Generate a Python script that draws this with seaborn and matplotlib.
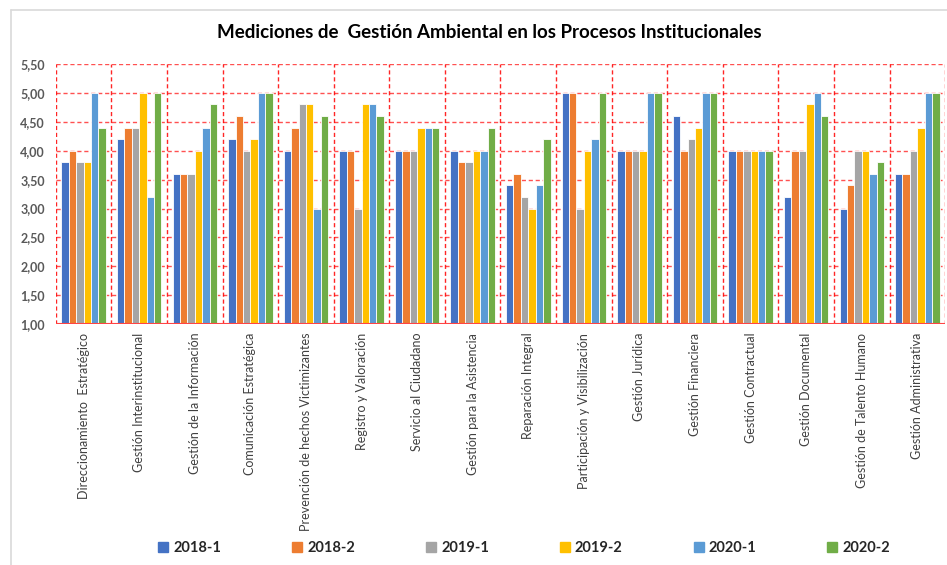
import pandas as pd
import numpy as np
import matplotlib.pyplot as plt
import seaborn as sns
from matplotlib.lines import Line2D
from matplotlib.ticker import FuncFormatter, MultipleLocator

# data
procesos = [
    "Direccionamiento  Estratégico", "Gestión Interinstitucional",
    "Gestión de la Información", "Comunicación Estratégica",
    "Prevención de hechos Victimizantes", "Registro y Valoración",
    "Servicio al Ciudadano", "Gestión para la Asistencia",
    "Reparación Integral", "Participación y Visibilización",
    "Gestión Jurídica", "Gestión Financiera", "Gestión Contractual",
    "Gestión Documental", "Gestión de Talento Humano", "Gestión Administrativa",
]
periodos = ["2018-1", "2018-2", "2019-1", "2019-2", "2020-1", "2020-2"]

v_2018_1 = [3.8, 4.2, 3.6, 4.2, 4.0, 4.0, 4.0, 4.0, 3.4, 5.0, 4.0, 4.6, 4.0, 3.2, 3.0, 3.6]
v_2018_2 = [4.0, 4.4, 3.6, 4.6, 4.4, 4.0, 4.0, 3.8, 3.6, 5.0, 4.0, 4.0, 4.0, 4.0, 3.4, 3.6]
v_2019_1 = [3.8, 4.4, 3.6, 4.0, 4.8, 3.0, 4.0, 3.8, 3.2, 3.0, 4.0, 4.2, 4.0, 4.0, 4.0, 4.0]
v_2019_2 = [3.8, 5.0, 4.0, 4.2, 4.8, 4.8, 4.4, 4.0, 3.0, 4.0, 4.0, 4.4, 4.0, 4.8, 4.0, 4.4]
v_2020_1 = [5.0, 3.2, 4.4, 5.0, 3.0, 4.8, 4.4, 4.0, 3.4, 4.2, 5.0, 5.0, 4.0, 5.0, 3.6, 5.0]
v_2020_2 = [4.4, 5.0, 4.8, 5.0, 4.6, 4.6, 4.4, 4.4, 4.2, 5.0, 5.0, 5.0, 4.0, 4.6, 3.8, 5.0]

colores = ["#4472C4", "#ED7D31", "#A5A5A5", "#FFC000", "#5B9BD5", "#70AD47"]

# long-form table for seaborn
series = [v_2018_1, v_2018_2, v_2019_1, v_2019_2, v_2020_1, v_2020_2]
rows = []
for per, vals in zip(periodos, series):
    for proc, v in zip(procesos, vals):
        rows.append({"proceso": proc, "periodo": per, "valor": v})
df = pd.DataFrame(rows)

sns.set_style("white")
plt.rcParams["font.family"] = ["Lato", "DejaVu Sans"]

fig = plt.figure(figsize=(9.47, 5.65), dpi=100)
ax = fig.add_axes([0.059, 0.426, 0.939, 0.461])

sns.barplot(data=df, x="proceso", y="valor", hue="periodo", order=procesos,
            hue_order=periodos, palette=colores, width=0.8, saturation=1,
            edgecolor="white", linewidth=0.6, ax=ax, legend=False)

ax.set_ylim(1, 5.5)
ax.set_xlim(-0.5, len(procesos) - 0.5)
ax.yaxis.set_major_locator(MultipleLocator(0.5))
ax.yaxis.set_major_formatter(FuncFormatter(lambda v, p: f"{v:.2f}".replace(".", ",")))

# red dashed grid: horizontal at ticks, vertical between categories
for y in np.arange(1.5, 5.51, 0.5):
    ax.axhline(y, color="#FF3333", lw=1, ls=(0, (3, 2)), alpha=0.85, zorder=0)
for x in np.arange(-0.5, len(procesos), 1):
    ax.axvline(x, color="#FF0000", lw=1, ls=(0, (3, 2)), alpha=0.85, zorder=0)
ax.axhline(1, color="#FF4444", lw=1.5, zorder=3)

for s in ax.spines.values():
    s.set_visible(False)

ax.set_xlabel("")
ax.set_ylabel("")
ax.tick_params(axis="y", length=0, labelsize=9, labelcolor="#595959", pad=8)
ax.tick_params(axis="x", length=0, labelsize=9, labelcolor="#404040", pad=6)
for lab in ax.get_yticklabels():
    lab.set_fontweight("bold")
ax.set_xticks(range(len(procesos)))
ax.set_xticklabels(procesos, rotation=90, va="top", ha="center")

fig.text(0.517, 0.942, "Mediciones de  Gestión Ambiental en los Procesos Institucionales",
         ha="center", va="center", fontsize=13.5, fontweight="bold", color="black")

handles = [Line2D([], [], marker="s", ls="", markersize=7, color=c) for c in colores]
fig.legend(handles, periodos, loc="center", bbox_to_anchor=(0.553, 0.03), ncol=6,
           frameon=False, prop={"weight": "bold", "size": 10.5}, handletextpad=0.3,
           columnspacing=4.8, handlelength=0.8)

# light outer frame of the chart (cropped on right and bottom)
fig.add_artist(Line2D([0.0116, 0.0116], [0, 0.982], color="#D9D9D9", lw=1.2))
fig.add_artist(Line2D([0.0116, 1], [0.982, 0.982], color="#D9D9D9", lw=1.2))

fig.savefig("out.png", dpi=100)
